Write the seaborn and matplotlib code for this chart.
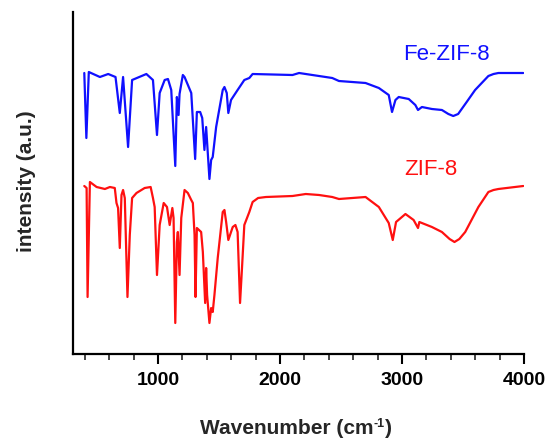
import numpy as np
import pandas as pd
import seaborn as sns
import matplotlib.pyplot as plt
from matplotlib.ticker import MultipleLocator, NullLocator

# Fe-ZIF-8 spectrum (wavenumber, intensity in a.u.)
fe_wn = [395, 412, 432, 523, 591, 651, 686, 713, 754, 787, 904, 958, 991, 1013,
         1054, 1081, 1108, 1141, 1154, 1168, 1176, 1203, 1217, 1272, 1304, 1318,
         1345, 1362, 1380, 1394, 1421, 1435, 1448, 1476, 1530, 1544, 1563, 1576,
         1598, 1652, 1707, 1748, 1775, 2102, 2156, 2428, 2483, 2701, 2810, 2891,
         2918, 2946, 2973, 3055, 3109, 3131, 3163, 3245, 3327, 3380, 3420, 3460,
         3530, 3599, 3708, 3750, 3790, 3994]
fe_int = [281, 216, 282, 277, 280, 277, 241, 277, 207, 274, 280, 274, 219, 261,
          274, 275, 264, 188, 257, 239, 260, 279, 277, 261, 195, 242,
          242, 236, 204, 227, 175, 194, 197, 227, 264, 267, 261, 241,
          254, 264, 274, 276, 280, 279, 281, 276, 273, 271, 266, 259,
          242, 254, 257, 255, 249, 244, 247, 245, 244, 240, 238, 240,
          252, 264, 278, 280, 281, 281]

# ZIF-8 spectrum
zif_wn = [395, 414, 422, 441, 496, 564, 605, 645, 659, 672, 686, 700, 713, 727,
          749, 768, 787, 823, 890, 939, 958, 972, 991, 1013, 1046, 1073, 1095,
          1117, 1127, 1141, 1154, 1162, 1176, 1190, 1217, 1244, 1272, 1285, 1299,
          1307, 1318, 1353, 1367, 1386, 1394, 1402, 1421, 1435, 1448, 1462, 1489,
          1530, 1544, 1558, 1576, 1612, 1634, 1652, 1672, 1688, 1707, 1748, 1775,
          1820, 1884, 2102, 2211, 2320, 2428, 2483, 2701, 2810, 2891, 2924, 2951,
          3028, 3095, 3131, 3142, 3245, 3327, 3390, 3430, 3470, 3518, 3626, 3708,
          3750, 3790, 3994]
zif_int = [168, 166, 57, 172, 167, 165, 167, 166, 151, 146, 106, 159, 164, 156,
           57, 119, 156, 161, 166, 167, 156, 147, 79, 129, 151, 147, 129,
           146, 136, 31, 112, 122, 79, 136, 164, 161, 154, 151, 119,
           57, 126, 122, 102, 51, 86, 59, 31, 46, 42, 59, 96,
           142, 144, 132, 114, 127, 129, 122, 51, 86, 129, 142, 152,
           156, 157, 158, 160, 159, 157, 155, 157, 147, 131, 114, 132,
           140, 134, 126, 132, 127, 122, 115, 112, 115, 122, 147, 162,
           164, 165, 168]

fe_df = pd.DataFrame({'Wavenumber': fe_wn, 'Intensity': fe_int})
zif_df = pd.DataFrame({'Wavenumber': zif_wn, 'Intensity': zif_int})

sns.set_style('ticks')
plt.rcParams['font.family'] = ['Liberation Sans', 'DejaVu Sans']

fig = plt.figure(figsize=(5.48, 4.43), dpi=100)
ax = fig.add_axes([72.7 / 548, 1 - 354 / 443, (524 - 72.7) / 548, (354 - 12) / 443])

sns.lineplot(data=fe_df, x='Wavenumber', y='Intensity', color='#1010ff', lw=1.6, ax=ax)
sns.lineplot(data=zif_df, x='Wavenumber', y='Intensity', color='#ff1010', lw=1.6, ax=ax)

ax.set_xlim(300, 4000)
ax.set_ylim(0, 342)
ax.xaxis.set_major_locator(MultipleLocator(1000))
ax.xaxis.set_minor_locator(MultipleLocator(200))
ax.yaxis.set_major_locator(NullLocator())
ax.set_xlabel('')
ax.set_ylabel('')

for s in ['top', 'right']:
    ax.spines[s].set_visible(False)
for s in ['left', 'bottom']:
    ax.spines[s].set_linewidth(1.6)
    ax.spines[s].set_color('black')

ax.tick_params(axis='x', which='major', length=7, width=1.5, pad=6, labelsize=14, colors='black')
ax.tick_params(axis='x', which='minor', length=4, width=1.2)
for lab in ax.get_xticklabels():
    lab.set_fontweight('bold')

ax.text(3361, 299, 'Fe-ZIF-8', color='#1010ff', fontsize=16, ha='center', va='center')
ax.text(3238, 184.5, 'ZIF-8', color='#ff1010', fontsize=16, ha='center', va='center')

# x label built from pieces so the superscript stays small
t1 = fig.text(200 / 548, 1 - 429 / 443, 'Wavenumber (cm', fontsize=15,
              fontweight='bold', ha='left', va='center')
t2 = ax.annotate('-1', xy=(1.0, 0.78), xycoords=t1, fontsize=9, fontweight='bold',
                 ha='left', va='center', annotation_clip=False)
ax.annotate(')', xy=(1.0, 0.5), xycoords=(t2, t1), fontsize=15, fontweight='bold',
            ha='left', va='center', annotation_clip=False)

fig.text(26 / 548, 1 - 181 / 443, 'intensity (a.u.)', fontsize=15, fontweight='bold',
         rotation=90, ha='center', va='center')

fig.savefig('out.png', dpi=100)
